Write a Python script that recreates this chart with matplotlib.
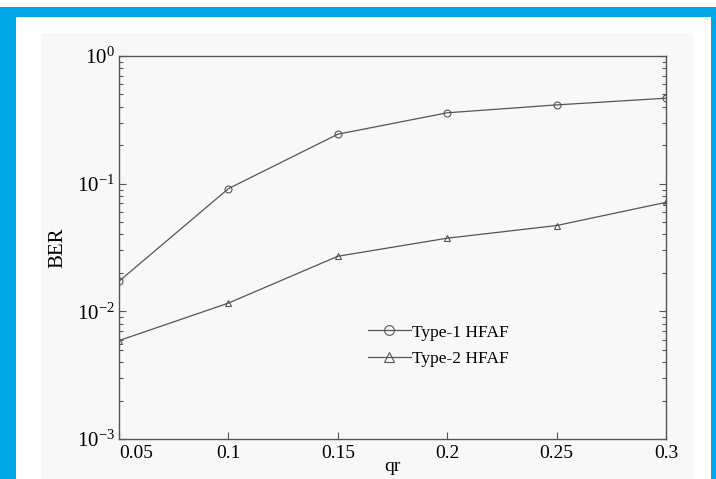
import matplotlib
matplotlib.use('Agg')
import matplotlib.pyplot as plt
from matplotlib.patches import Rectangle

# --- data ---
qr = [0.05, 0.1, 0.15, 0.2, 0.25, 0.3]
ber_type1 = [0.0172, 0.0914, 0.244, 0.359, 0.414, 0.467]
ber_type2 = [0.0059, 0.0116, 0.0270, 0.0374, 0.0470, 0.0714]
xticks = [0.05, 0.1, 0.15, 0.2, 0.25, 0.3]
xtick_labels = ['0.05', '0.1', '0.15', '0.2', '0.25', '0.3']

plt.rcParams['font.family'] = ['Liberation Serif', 'DejaVu Serif']
plt.rcParams['mathtext.fontset'] = 'stix'
plt.rcParams['axes.unicode_minus'] = False

W, H = 716, 479
fig = plt.figure(figsize=(W / 100, H / 100), dpi=100)
fig.patch.set_facecolor('white')

BLUE = '#00a8e8'
PANEL = '#f8f8f8'
LINE = '#555555'

def px(x, y, w, h):
    # pixel box (top-left origin) -> figure fraction
    return (x / W, 1 - (y + h) / H), w / W, h / H

# frame decorations
for (x, y, w, h), c in [((0, 7, W, 10), BLUE), ((0, 7, 16, H), BLUE),
                        ((711, 7, 5, H), BLUE), ((41, 33, 652, H), PANEL)]:
    xy, ww, hh = px(x, y, w, h)
    fig.patches.append(Rectangle(xy, ww, hh, transform=fig.transFigure,
                                 facecolor=c, edgecolor='none', zorder=-5))

ax = fig.add_axes([119 / W, 1 - 439 / H, (666 - 119) / W, (439 - 56) / H])
ax.set_facecolor(PANEL)

ax.semilogy(qr, ber_type1, color=LINE, lw=0.9, marker='o', ms=5,
            mfc='none', mec=LINE, mew=0.8, label='Type-1 HFAF')
ax.semilogy(qr, ber_type2, color=LINE, lw=0.9, marker='^', ms=5,
            mfc='none', mec=LINE, mew=0.8, label='Type-2 HFAF')

ax.set_xlim(0.05, 0.3)
ax.set_ylim(1e-3, 1e0)
ax.set_xticks(xticks)
ax.set_xticklabels(xtick_labels)
ax.get_xticklabels()[0].set_ha('left')

ax.spines['top'].set_visible(False)
for s in ['left', 'right', 'bottom']:
    ax.spines[s].set_color(LINE)
    ax.spines[s].set_linewidth(1.0)
ax.plot([0, 1], [1, 1], transform=ax.transAxes, color=LINE, lw=1.0, clip_on=False)

ax.tick_params(which='both', direction='in', right=True, top=False,
               colors=LINE, labelcolor='black', width=0.8)
ax.tick_params(which='major', length=5)
ax.tick_params(which='minor', length=3)
ax.tick_params(axis='x', labelsize=14, pad=4)
ax.tick_params(axis='y', labelsize=15, pad=3)

ax.set_xlabel('qr', fontsize=14)
ax.xaxis.set_label_coords(0.5, -0.05)
ax.set_ylabel('BER', fontsize=15)
ax.yaxis.set_label_coords(-0.095, 0.5)

ax.legend(loc='upper left', bbox_to_anchor=(0.426, 0.34), frameon=False,
          fontsize=12.5, handlelength=2.5, handletextpad=0.05,
          labelspacing=0.6, markerscale=1.4)

fig.savefig('out.png', dpi=100)
